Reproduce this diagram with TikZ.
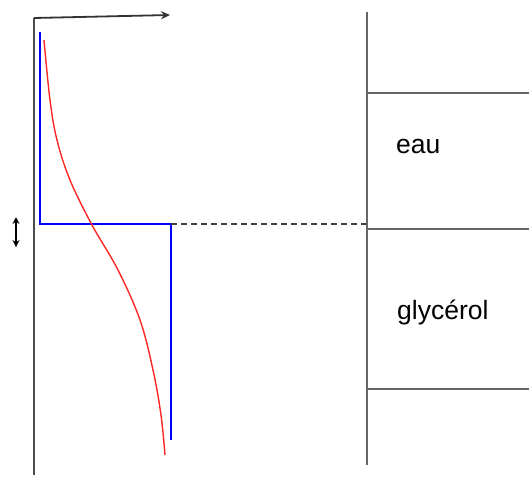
\documentclass[tikz,border=0pt]{standalone}
\usepackage{fontspec}
\setmainfont{Liberation Sans}
\usepackage{tikz}
\usetikzlibrary{arrows.meta}

\tikzset{
  axe/.style={draw=black!70, line width=1.8pt},
  bord/.style={draw=black!60, line width=1.6pt},
  profil/.style={draw=blue, line width=1.7pt},
  vitesse/.style={draw=red!85!white, line width=1.4pt},
  label/.style={font=\fontsize{26.5}{28}\selectfont, anchor=west, inner sep=0pt}
}

\begin{document}
\begin{tikzpicture}[x=1pt, y=-1pt]
  \useasboundingbox (0,0) rectangle (529,477);

  % Axes
  \coordinate (o) at (34,18);
  \coordinate (xend) at (170,15);
  \coordinate (ybas) at (34,475);
  \draw [axe] (ybas) -- (o);
  \draw [axe, -{Stealth[length=9pt, width=8pt]}, draw=black!80] (o) -- (xend);

  % Double arrow for the interface thickness
  \coordinate (dh) at (16,217);
  \coordinate (db) at (16,247);
  \draw [{Stealth[length=7pt, width=7pt]}-{Stealth[length=7pt, width=7pt]}, line width=1.5pt] (dh) -- (db);

  % Step profile (blue)
  \coordinate (b1) at (40,32);
  \coordinate (b2) at (40,224);
  \coordinate (b3) at (171,224);
  \coordinate (b4) at (171,440);
  \draw [profil] (b1) -- (b2) -- (b3) -- (b4);

  % Smooth profile (red)
  \draw [vitesse] plot [smooth, tension=0.6] coordinates
    {(44,40) (50,100) (57,140) (70,180) (92,225) (118,270) (140,320) (153,370) (161,415) (165,455)};

  % Interface continued to the tank
  \coordinate (cuve) at (367,224);
  \draw [draw=black!75, line width=1.2pt, dash pattern=on 6pt off 4pt] (b3) -- (cuve);

  % Tank wall and layers
  \coordinate (mh) at (367,12);
  \coordinate (mb) at (367,465);
  \draw [bord] (mh) -- (mb);
  \coordinate (l1) at (367,93);  \coordinate (r1) at (529,93);
  \coordinate (l2) at (367,229); \coordinate (r2) at (529,229);
  \coordinate (l3) at (367,389); \coordinate (r3) at (529,389);
  \draw [bord] (l1) -- (r1);
  \draw [bord] (l2) -- (r2);
  \draw [bord] (l3) -- (r3);

  % Layer names
  \node [label] (eau) at (396,146) {eau};
  \node [label] (glycerol) at (397,312) {glycérol};
\end{tikzpicture}
\end{document}
